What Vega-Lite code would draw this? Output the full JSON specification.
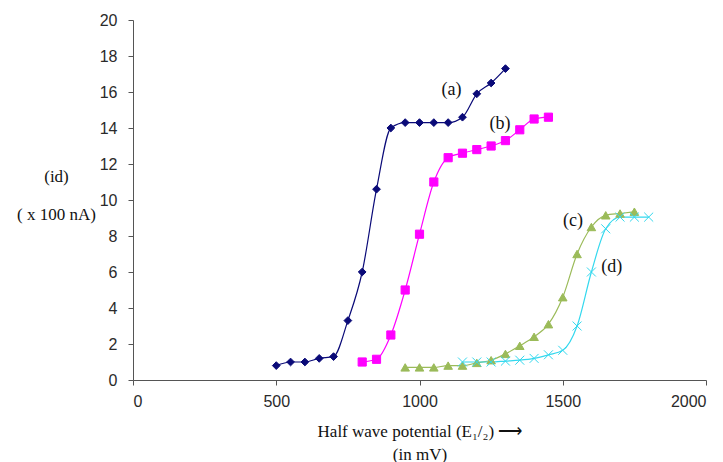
{
  "$schema": "https://vega.github.io/schema/vega-lite/v6.json",
  "width": 573,
  "height": 360,
  "autosize": {"type": "none"},
  "padding": {"left": 133, "top": 20, "right": 17, "bottom": 82},
  "background": "white",
  "config": {
    "view": {"stroke": null},
    "axis": {
      "grid": false,
      "labelFont": "Liberation Sans",
      "labelFontSize": 16,
      "labelColor": "#2a2a2a",
      "domainColor": "#555555",
      "tickColor": "#555555",
      "tickSize": 5,
      "titleFont": "Liberation Serif",
      "titleFontSize": 17,
      "titleFontWeight": "normal",
      "titleColor": "#111111"
    }
  },
  "datasets": {
    "curves": [
      {"series": "a", "x": 500, "y": 0.8}, {"series": "a", "x": 550, "y": 1.0}, {"series": "a", "x": 600, "y": 1.0},
      {"series": "a", "x": 650, "y": 1.2}, {"series": "a", "x": 700, "y": 1.3}, {"series": "a", "x": 750, "y": 3.3},
      {"series": "a", "x": 800, "y": 6.0}, {"series": "a", "x": 850, "y": 10.6}, {"series": "a", "x": 900, "y": 14.0},
      {"series": "a", "x": 950, "y": 14.3}, {"series": "a", "x": 1000, "y": 14.3}, {"series": "a", "x": 1050, "y": 14.3},
      {"series": "a", "x": 1100, "y": 14.3}, {"series": "a", "x": 1150, "y": 14.6}, {"series": "a", "x": 1200, "y": 15.9},
      {"series": "a", "x": 1250, "y": 16.5}, {"series": "a", "x": 1300, "y": 17.3},
      {"series": "b", "x": 800, "y": 1.0}, {"series": "b", "x": 850, "y": 1.15}, {"series": "b", "x": 900, "y": 2.5},
      {"series": "b", "x": 950, "y": 5.0}, {"series": "b", "x": 1000, "y": 8.1}, {"series": "b", "x": 1050, "y": 11.0},
      {"series": "b", "x": 1100, "y": 12.35}, {"series": "b", "x": 1150, "y": 12.6}, {"series": "b", "x": 1200, "y": 12.8},
      {"series": "b", "x": 1250, "y": 13.0}, {"series": "b", "x": 1300, "y": 13.3}, {"series": "b", "x": 1350, "y": 13.9},
      {"series": "b", "x": 1400, "y": 14.5}, {"series": "b", "x": 1450, "y": 14.6},
      {"series": "c", "x": 950, "y": 0.7}, {"series": "c", "x": 1000, "y": 0.7}, {"series": "c", "x": 1050, "y": 0.7},
      {"series": "c", "x": 1100, "y": 0.8}, {"series": "c", "x": 1150, "y": 0.8}, {"series": "c", "x": 1200, "y": 0.95},
      {"series": "c", "x": 1250, "y": 1.1}, {"series": "c", "x": 1300, "y": 1.45}, {"series": "c", "x": 1350, "y": 1.9},
      {"series": "c", "x": 1400, "y": 2.4}, {"series": "c", "x": 1450, "y": 3.1}, {"series": "c", "x": 1500, "y": 4.6},
      {"series": "c", "x": 1550, "y": 7.0}, {"series": "c", "x": 1600, "y": 8.5}, {"series": "c", "x": 1650, "y": 9.15},
      {"series": "c", "x": 1700, "y": 9.25}, {"series": "c", "x": 1750, "y": 9.35},
      {"series": "d", "x": 1150, "y": 1.0}, {"series": "d", "x": 1200, "y": 1.0}, {"series": "d", "x": 1250, "y": 1.0},
      {"series": "d", "x": 1300, "y": 1.05}, {"series": "d", "x": 1350, "y": 1.1}, {"series": "d", "x": 1400, "y": 1.2},
      {"series": "d", "x": 1450, "y": 1.4}, {"series": "d", "x": 1500, "y": 1.65}, {"series": "d", "x": 1550, "y": 3.0},
      {"series": "d", "x": 1600, "y": 6.0}, {"series": "d", "x": 1650, "y": 8.4}, {"series": "d", "x": 1700, "y": 9.05},
      {"series": "d", "x": 1750, "y": 9.05}, {"series": "d", "x": 1800, "y": 9.05}
    ],
    "labels": [
      {"label": "(a)", "x": 1112, "y": 16.1},
      {"label": "(b)", "x": 1281, "y": 14.2},
      {"label": "(c)", "x": 1536, "y": 8.85},
      {"label": "(d)", "x": 1671, "y": 6.3}
    ]
  },
  "encoding": {
    "x": {
      "field": "x", "type": "quantitative",
      "scale": {"domain": [0, 2000], "nice": false},
      "axis": {
        "values": [0, 500, 1000, 1500, 2000],
        "format": "d",
        "labelPadding": 8,
        "title": ["Half wave potential (E₁/₂) ⟶", "(in mV)"],
        "titleY": 56,
        "titleBaseline": "alphabetic",
        "titleLineHeight": 23
      }
    },
    "y": {
      "field": "y", "type": "quantitative",
      "scale": {"domain": [0, 20], "nice": false},
      "axis": {
        "values": [0, 2, 4, 6, 8, 10, 12, 14, 16, 18, 20],
        "format": "d",
        "labelPadding": 11,
        "title": ["(id)", "( x 100 nA)"],
        "titleAngle": 0,
        "titleAlign": "center",
        "titleBaseline": "alphabetic",
        "titleX": -77,
        "titleY": 161,
        "titleLineHeight": 38
      }
    }
  },
  "layer": [
    {
      "data": {"name": "curves"},
      "mark": {"type": "line", "interpolate": "monotone"},
      "encoding": {
        "detail": {"field": "series"},
        "color": {"field": "series", "type": "nominal", "legend": null,
          "scale": {"domain": ["a", "b", "c", "d"], "range": ["#0A0A78", "#FF00FF", "#9BBB59", "#33D8EE"]}},
        "strokeWidth": {"field": "series", "type": "nominal", "legend": null,
          "scale": {"domain": ["a", "b", "c", "d"], "range": [1.2, 1.2, 4.5, 1.2]}}
      }
    },
    {
      "data": {"name": "curves"},
      "mark": {"type": "point", "filled": true, "opacity": 1, "strokeWidth": 1},
      "encoding": {
        "color": {"field": "series", "type": "nominal", "legend": null,
          "scale": {"domain": ["a", "b", "c", "d"], "range": ["#0A0A78", "#FF00FF", "#9BBB59", "#33D8EE"]}},
        "stroke": {"field": "series", "type": "nominal", "legend": null,
          "scale": {"domain": ["a", "b", "c", "d"], "range": ["#0A0A78", "#FF00FF", "#9BBB59", "#33D8EE"]}},
        "shape": {"field": "series", "type": "nominal", "legend": null,
          "scale": {"domain": ["a", "b", "c", "d"], "range": ["diamond", "square", "triangle-up", "M -1 -1 L 1 1 M -1 1 L 1 -1"]}},
        "size": {"field": "series", "type": "nominal", "legend": null,
          "scale": {"domain": ["a", "b", "c", "d"], "range": [60, 80, 130, 45]}}
      }
    },
    {
      "data": {"name": "labels"},
      "mark": {"type": "text", "font": "Liberation Serif", "fontSize": 18, "color": "#111111", "align": "center", "baseline": "middle"},
      "encoding": {
        "text": {"field": "label"}
      }
    }
  ]
}
